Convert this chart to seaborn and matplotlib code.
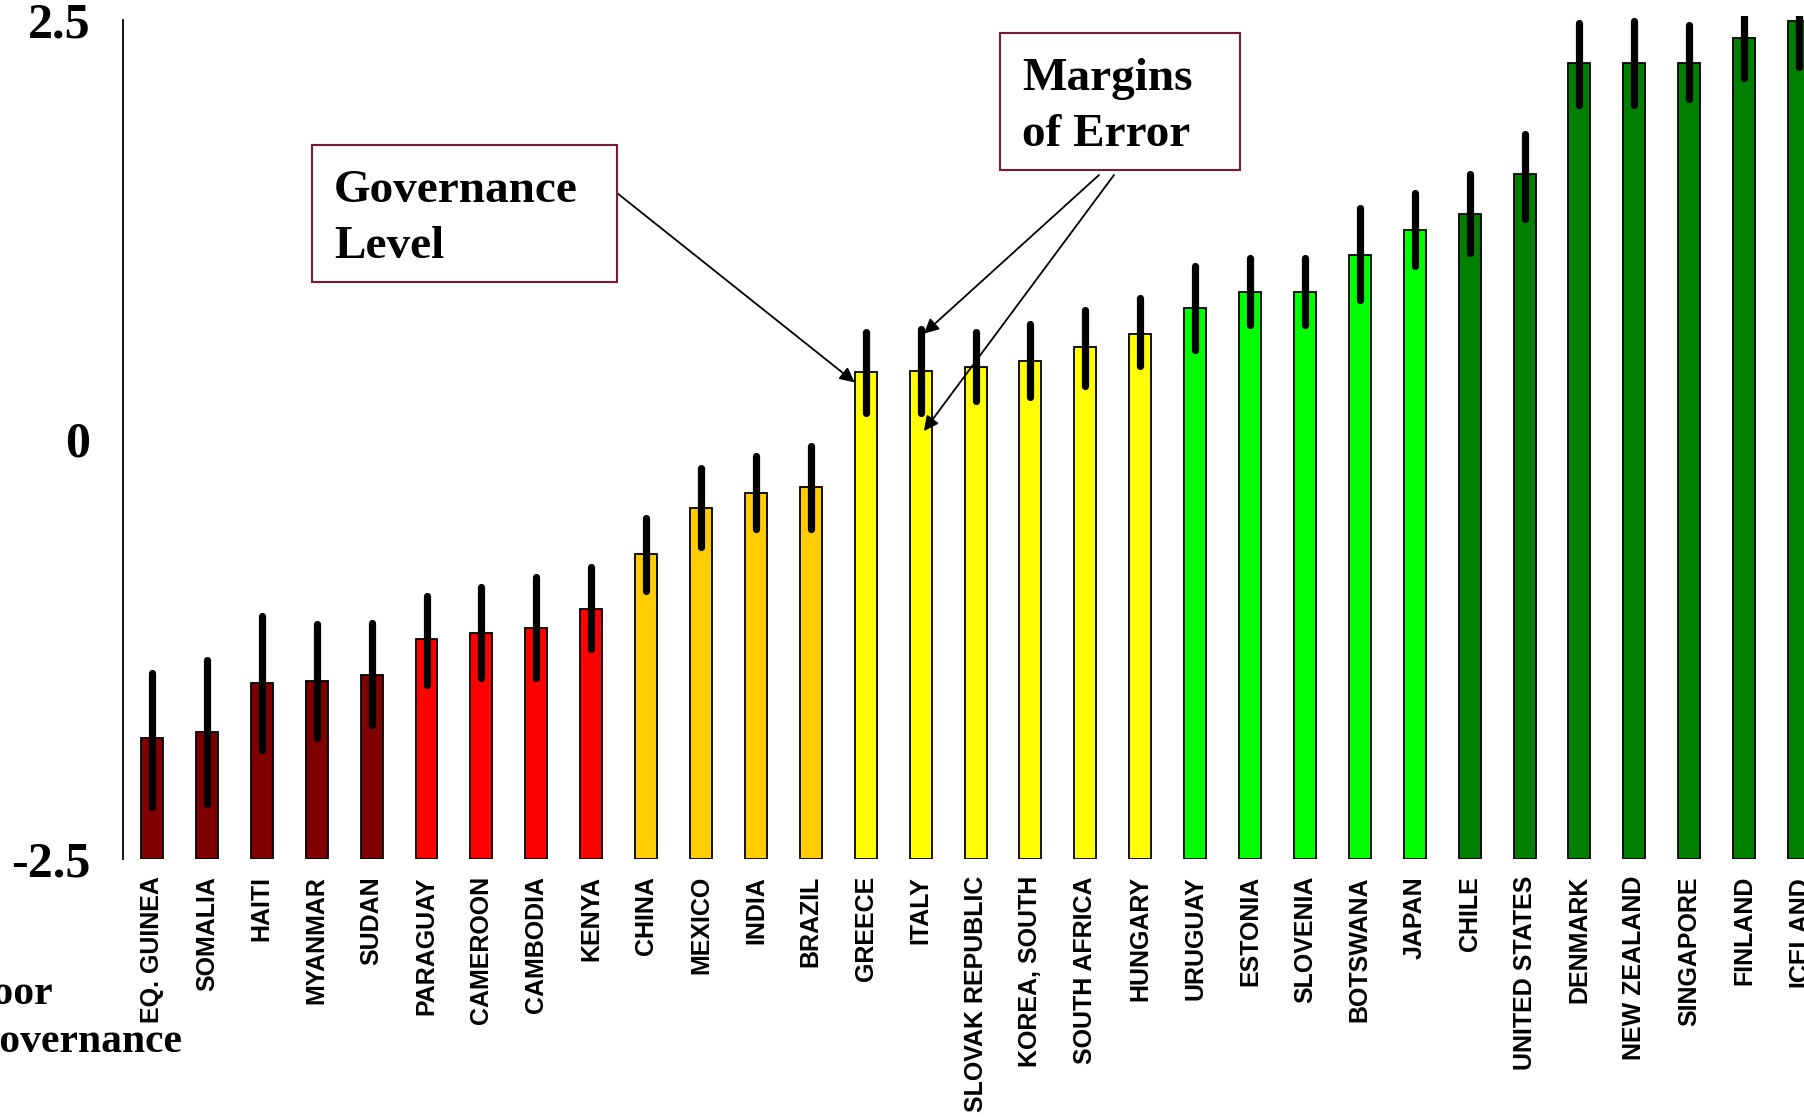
"""
Governance level by country, with margins of error.
Bars rise from the bottom of the scale (-2.5); colour marks the governance band.
"""

import numpy as np
import pandas as pd
import matplotlib
matplotlib.use("Agg")
import matplotlib.pyplot as plt
import seaborn as sns
from matplotlib.patches import Rectangle

countries = [
    "EQ. GUINEA", "SOMALIA", "HAITI", "MYANMAR", "SUDAN",
    "PARAGUAY", "CAMEROON", "CAMBODIA", "KENYA",
    "CHINA", "MEXICO", "INDIA", "BRAZIL",
    "GREECE", "ITALY", "SLOVAK REPUBLIC", "KOREA, SOUTH", "SOUTH AFRICA", "HUNGARY",
    "URUGUAY", "ESTONIA", "SLOVENIA", "BOTSWANA", "JAPAN",
    "CHILE", "UNITED STATES", "DENMARK", "NEW ZEALAND", "SINGAPORE", "FINLAND", "ICELAND",
]
governance = [
    -1.78, -1.74, -1.45, -1.44, -1.40,
    -1.19, -1.15, -1.12, -1.01,
    -0.68, -0.41, -0.32, -0.28,
    0.40, 0.41, 0.43, 0.47, 0.55, 0.63,
    0.78, 0.88, 0.88, 1.10, 1.25,
    1.34, 1.58, 2.24, 2.24, 2.24, 2.39, 2.49,
]
err_high = [
    -1.39, -1.31, -1.05, -1.10, -1.09,
    -0.93, -0.88, -0.82, -0.76,
    -0.47, -0.17, -0.10, -0.04,
    0.64, 0.66, 0.64, 0.69, 0.77, 0.84,
    1.03, 1.08, 1.08, 1.38, 1.47,
    1.58, 1.82, 2.48, 2.49, 2.47, 2.63, 2.77,
]
err_low = [
    -2.19, -2.17, -1.85, -1.78, -1.70,
    -1.46, -1.42, -1.42, -1.25,
    -0.90, -0.64, -0.53, -0.53,
    0.16, 0.16, 0.23, 0.25, 0.32, 0.44,
    0.53, 0.68, 0.68, 0.83, 1.03,
    1.11, 1.31, 1.99, 1.99, 2.03, 2.15, 2.22,
]
band = (["very poor"] * 5 + ["poor"] * 4 + ["weak"] * 4 + ["fair"] * 6
        + ["good"] * 5 + ["very good"] * 7)
band_colors = {
    "very poor": "#800000",
    "poor": "#FF0000",
    "weak": "#FFCC00",
    "fair": "#FFFF00",
    "good": "#00FF00",
    "very good": "#008000",
}
y_ticks = [-2.5, 0, 2.5]
y_tick_labels = ["-2.5", "0", "2.5"]
floor = -2.5

W, H = 1804, 1117


def fx(px):
    return px / W


def fy(py):
    return 1 - py / H


sns.set_theme(style="white")
plt.rcParams["font.family"] = ["Liberation Sans", "DejaVu Sans"]
plt.rcParams["text.color"] = "black"
plt.rcParams["xtick.color"] = "black"
plt.rcParams["ytick.color"] = "black"

df = pd.DataFrame({"country": countries, "level": governance, "band": band})
df["height"] = df["level"] - floor

fig = plt.figure(figsize=(W / 100, H / 100), dpi=100)
ax = fig.add_axes([fx(123), fy(859.4), fx(W - 123), (859.4 - 16.2) / H])

sns.barplot(
    data=df, x="country", y="height", hue="band", palette=band_colors,
    dodge=False, width=0.4, bottom=floor, saturation=1, errorbar=None,
    edgecolor="black", linewidth=1.3, legend=False, ax=ax,
)

# margins of error
pos = np.arange(len(countries))
ax.vlines(pos, err_low, err_high, colors="black", linewidth=5.2,
          capstyle="round", zorder=3)

ax.set_ylim(-2.5, 2.52)
ax.set_xlim(-0.528, 30.09)
ax.set_xlabel("")
ax.set_ylabel("")

ax.set_yticks(y_ticks)
ax.set_yticklabels(y_tick_labels, fontfamily="Liberation Serif",
                   fontweight="bold", fontsize=36, color="black")
ax.tick_params(axis="y", direction="inout", length=21, width=1.3,
               pad=13, colors="black")
ax.set_xticks(pos)
ax.set_xticklabels(countries, rotation=90, fontweight="bold", fontsize=18,
                   color="black")
ax.tick_params(axis="x", length=0, pad=12)

for side in ["top", "right", "bottom"]:
    ax.spines[side].set_visible(False)
ax.spines["left"].set_bounds(-2.5, 2.5)
ax.spines["left"].set_linewidth(1.3)
ax.spines["left"].set_color("black")

# callout boxes
box_color = "#7A1A33"
serif = dict(fontfamily="Liberation Serif", fontweight="bold", fontsize=34,
             color="black")
fig.patches.append(Rectangle((fx(312), fy(282)), 305 / W, 137 / H,
                             transform=fig.transFigure, fill=False,
                             edgecolor=box_color, linewidth=1.5))
fig.text(fx(334), fy(219), "Governance\nLevel", ha="left", va="center",
         linespacing=1.45, **serif)
fig.patches.append(Rectangle((fx(1000), fy(170)), 240 / W, 137 / H,
                             transform=fig.transFigure, fill=False,
                             edgecolor=box_color, linewidth=1.5))
fig.text(fx(1022), fy(107), "Margins\nof Error", ha="left", va="center",
         linespacing=1.45, **serif)

arrow = dict(arrowstyle="-|>", color="black", lw=1.3, mutation_scale=22,
             shrinkA=0, shrinkB=0)
i_gr = countries.index("GREECE")
i_it = countries.index("ITALY")
ax.annotate("", xy=(i_gr - 0.2, governance[i_gr] - 0.06), xycoords="data",
            xytext=(fx(617), fy(193)), textcoords="figure fraction",
            arrowprops=arrow)
ax.annotate("", xy=(i_it + 0.06, err_high[i_it] - 0.03), xycoords="data",
            xytext=(fx(1099), fy(175)), textcoords="figure fraction",
            arrowprops=arrow)
ax.annotate("", xy=(i_it + 0.06, err_low[i_it] - 0.11), xycoords="data",
            xytext=(fx(1114), fy(175)), textcoords="figure fraction",
            arrowprops=arrow)

fig.text(fx(-33), fy(1018), "Poor\nGovernance", ha="left", va="center",
         linespacing=1.35, fontfamily="Liberation Serif", fontweight="bold",
         fontsize=30, color="black")

fig.savefig("out.png", dpi=100)
